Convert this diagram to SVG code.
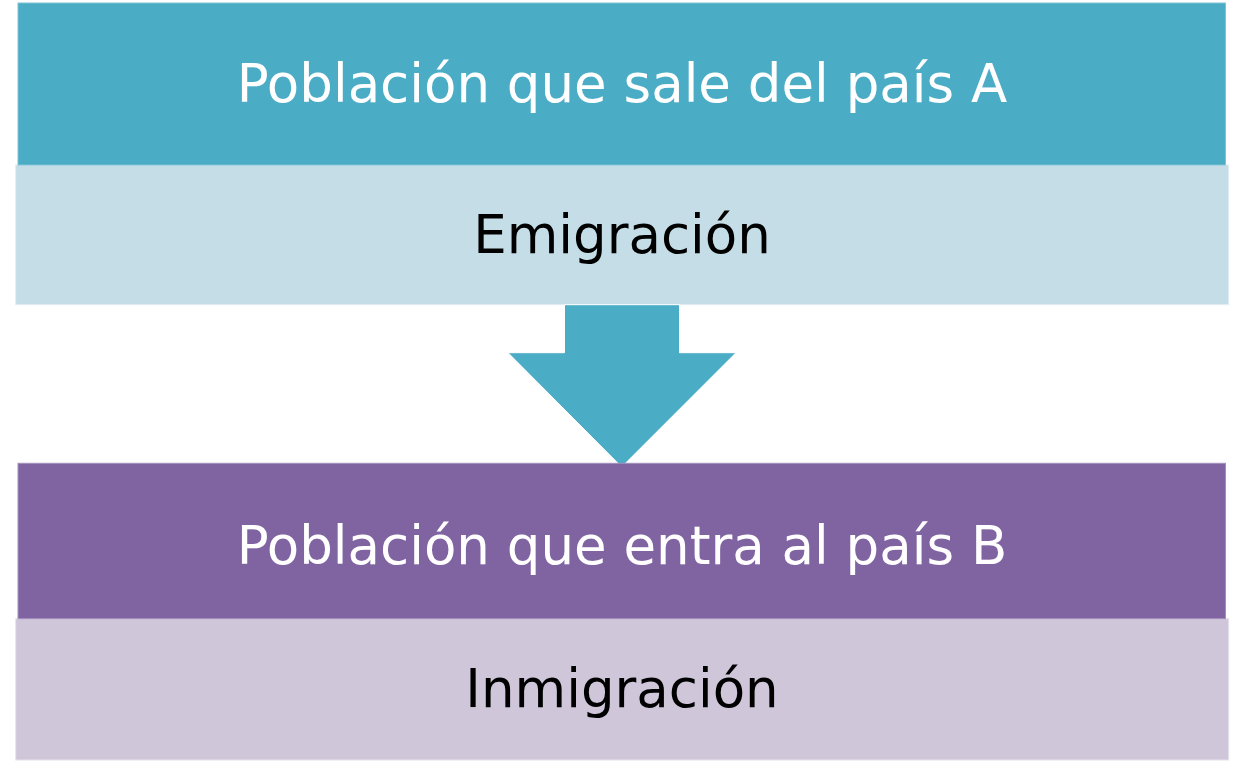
<svg xmlns="http://www.w3.org/2000/svg" width="1235" height="761" viewBox="0 0 1235 761">
<style>
.t{font-family:"DejaVu Sans","Verdana",sans-serif;font-size:53px;text-anchor:middle}
.w{fill:#ffffff}
.k{fill:#000000}
</style>
<rect width="1235" height="761" fill="#ffffff"/>
<g id="node-emigracion-label">
<rect x="15.7" y="165" width="1213" height="139.7" fill="#C4DDE6" stroke="#E3EEF3" stroke-width="1"/>
<text class="t k" x="622" y="253">Emigración</text>
</g>
<g id="node-poblacion-sale">
<rect x="18" y="3" width="1207.5" height="162" fill="#4BACC6" stroke="#7FC3D5" stroke-width="1"/>
<text class="t w" x="622" y="102">Población que sale del país A</text>
</g>
<g id="connectors">
<path id="arrow" d="M564.5,304.7 L679.5,304.7 L679.5,352.7 L736,352.7 L621.7,467 L508,352.7 L564.5,352.7 Z" fill="#4BACC6" stroke="#ffffff" stroke-width="1" stroke-linejoin="miter"/>
</g>
<g id="node-inmigracion-label">
<rect x="15.7" y="618.7" width="1213" height="141.3" fill="#CFC6DA" stroke="#E7E2EC" stroke-width="1"/>
<text class="t k" x="622" y="707">Inmigración</text>
</g>
<g id="node-poblacion-entra">
<rect x="18" y="463.3" width="1207.5" height="155.4" fill="#8064A2" stroke="#A38FBC" stroke-width="1"/>
<text class="t w" x="622" y="564">Población que entra al país B</text>
</g>
</svg>
